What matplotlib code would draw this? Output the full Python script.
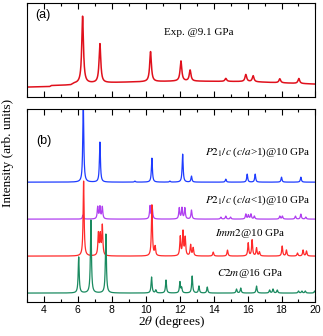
#!/usr/bin/env python3
"""XRD patterns: experiment at 9.1 GPa vs simulated candidate phases."""

import matplotlib
matplotlib.use("Agg")
import matplotlib.pyplot as plt
from matplotlib.ticker import MultipleLocator
import numpy as np

plt.rcParams["mathtext.fontset"] = "stix"
SERIF = "Liberation Serif"
SANS = "Liberation Sans"

# --- experimental pattern (a): peak positions (2theta), heights, background knots
exp_pos = [6.29, 7.31, 10.29, 12.08, 12.62, 14.72, 15.90, 16.33, 17.90, 19.02]
exp_height = [67, 39, 30, 20, 11, 3, 7, 6, 4, 5]
exp_bg_x = [3.0, 4.35, 4.45, 5.6, 5.8, 9.0, 12.0, 16.0, 20.0]
exp_bg_y = [10.0, 10.5, 11.5, 12.0, 13.5, 15.0, 16.0, 15.5, 13.0]

# --- simulated patterns (b)
blue_pos = [6.33, 7.31, 9.37, 10.37, 11.43, 12.18, 12.70, 14.72, 15.98, 16.45, 18.00, 19.14]
blue_height = [80, 40, 1, 24, 1, 28, 6, 3, 8, 8, 5, 5]

purple_pos = [6.31, 7.18, 7.31, 7.45, 10.26, 10.39, 11.98, 12.14, 12.31, 12.70,
              14.43, 14.72, 15.00, 15.90, 16.05, 16.20, 16.40, 17.90, 18.05,
              18.82, 19.14, 19.43]
purple_height = [4, 12, 12, 12, 13, 11, 11, 11, 11, 9,
                 2, 3, 2, 5, 4, 5, 3, 3, 3, 3, 5, 2]

red_pos = [6.35, 7.22, 7.33, 7.45, 10.37, 10.56, 12.04, 12.20, 12.33, 12.65, 12.80,
           13.98, 14.82, 16.04, 16.27, 16.53, 16.70, 18.04, 18.29, 18.94, 19.27, 19.47]
red_height = [75, 22, 20, 30, 51, 9, 19, 24, 18, 11, 8,
              4, 6, 13, 16, 8, 4, 10, 6, 3, 6, 5]

green_pos = [6.06, 6.78, 7.66, 10.35, 10.60, 11.20, 12.02, 12.12, 12.74, 13.14, 13.63,
             15.35, 15.60, 16.53, 17.30, 17.50, 17.75, 19.00, 19.20, 19.40, 19.95]
green_height = [36, 73, 59, 16, 3, 13, 11, 5, 17, 7, 6,
                4, 5, 7, 3, 4, 3, 2, 2, 2, 2]

sim_labels = [r"$P2_1/c$ ($c/a$>1)@10 GPa", r"$P2_1/c$ ($c/a$<1)@10 GPa",
              r"$Imm2$@10 GPa", r"$C2m$@16 GPa"]
sim_offsets = [120, 83, 46, 9]
sim_colors = ["#1e3cff", "#b040f0", "#ff2a2a", "#1a8a60"]


def pattern(x, pos, height, hwhm):
    y = np.zeros_like(x)
    for p, h in zip(pos, height):
        y += h * hwhm**2 / ((x - p) ** 2 + hwhm**2)
    return y


def style_axis(ax):
    ax.set_xlim(3, 20)
    ax.xaxis.set_major_locator(MultipleLocator(2))
    ax.xaxis.set_minor_locator(MultipleLocator(1))
    ax.tick_params(axis="x", which="both", direction="in", top=True, bottom=True)
    ax.tick_params(axis="x", which="major", length=4, width=0.8)
    ax.tick_params(axis="x", which="minor", length=2, width=0.8)
    ax.set_yticks([])
    for sp in ax.spines.values():
        sp.set_linewidth(0.8)


def main():
    x = np.arange(3.0, 20.0001, 0.005)

    fig = plt.figure(figsize=(3.23, 3.36), dpi=100)
    ax_a = fig.add_axes([0.0827, 0.711, 0.894, 0.280])
    ax_b = fig.add_axes([0.0827, 0.101, 0.894, 0.574])

    # (a) experiment
    y_exp = np.interp(x, exp_bg_x, exp_bg_y) + pattern(x, exp_pos, exp_height, 0.06)
    ax_a.plot(x, y_exp, color="#e0101c", lw=1.1)
    ax_a.set_ylim(0, 94)
    style_axis(ax_a)
    ax_a.tick_params(axis="x", labelbottom=False)
    ax_a.text(3.5, 82, "(a)", fontsize=9, family=SANS, va="center")
    ax_a.text(13.1, 65, "Exp. @9.1 GPa", fontsize=8, family=SERIF, ha="center", va="center")

    # (b) simulations
    sims = [(blue_pos, blue_height), (purple_pos, purple_height),
            (red_pos, red_height), (green_pos, green_height)]
    for (pos, h), off, col in zip(sims, sim_offsets, sim_colors):
        ax_b.plot(x, off + pattern(x, pos, h, 0.035), color=col, lw=0.9)
    ax_b.set_ylim(0, 193)
    style_axis(ax_b)
    ax_b.tick_params(axis="x", labelsize=7.5, pad=2)
    for lab in ax_b.get_xticklabels():
        lab.set_family(SANS)

    ax_b.text(3.55, 161, "(b)", fontsize=9, family=SANS, va="center")
    ax_b.text(19.7, 150, sim_labels[0], fontsize=8, family=SERIF, ha="right", va="center")
    ax_b.text(19.7, 102, sim_labels[1], fontsize=8, family=SERIF, ha="right", va="center")
    ax_b.text(16.15, 69, sim_labels[2], fontsize=8, family=SERIF, ha="center", va="center")
    ax_b.text(16.15, 29, sim_labels[3], fontsize=8, family=SERIF, ha="center", va="center")

    ax_b.set_xlabel(r"2$\theta$ (degrees)", fontsize=9.5, family=SERIF, labelpad=-0.5)
    fig.text(0.026, 0.545, "Intensity (arb. units)", fontsize=9.5, family=SERIF,
             rotation=90, ha="center", va="center")

    fig.savefig("out.png", dpi=100)
    plt.close(fig)


if __name__ == "__main__":
    main()
